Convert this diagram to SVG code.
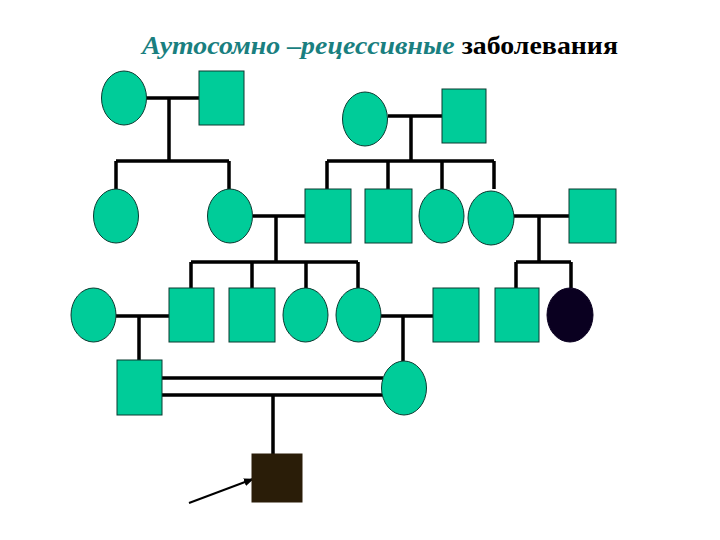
<svg xmlns="http://www.w3.org/2000/svg" width="720" height="540" viewBox="0 0 720 540">
<style>
.n{fill:#00CC99;stroke:#0a3a30;stroke-width:1}
.a{fill:#0a0020;stroke:#0a0020;stroke-width:1}
.p{fill:#2a1d08;stroke:#2a1d08;stroke-width:1}
.l{stroke:#000;stroke-width:3.5;fill:none;stroke-linecap:butt}
.t{font-family:"Liberation Serif","DejaVu Serif",serif;font-size:26px;font-weight:bold}
</style>
<defs>
<marker id="ah" markerWidth="10" markerHeight="8" refX="9" refY="4" orient="auto" markerUnits="userSpaceOnUse">
<path d="M0,0 L10,4 L0,8 Z" fill="#000"/>
</marker>
</defs>
<rect width="720" height="540" fill="#fff"/>
<text class="t" x="142" y="54" textLength="476" lengthAdjust="spacingAndGlyphs"><tspan font-style="italic" fill="#1a7f80">Аутосомно –рецессивные</tspan> <tspan fill="#000">заболевания</tspan></text>
<g id="connectors">
<path class="l" d="M146,98 H199 M169,98 V161 M116,161 H229 M116,161 V189 M229,161 V189"/>
<path class="l" d="M388,116 H442 M411,116 V161 M327,161 H494 M327,161 V189 M388,161 V189 M442,161 V189 M494,161 V189"/>
<path class="l" d="M253,216 H305 M276,216 V262 M191,262 H358 M191,262 V288 M252,262 V288 M306,262 V288 M358,262 V288"/>
<path class="l" d="M514,216 H569 M539,216 V262 M516,262 H571 M516,262 V288 M571,262 V288"/>
<path class="l" d="M116,316 H169 M139,316 V360"/>
<path class="l" d="M381,316 H433 M403,316 V361"/>
<path class="l" d="M162,378 H383 M162,395 H383 M273,395 V454"/>
<line x1="189" y1="503" x2="253" y2="479" stroke="#000" stroke-width="2" marker-end="url(#ah)"/>
</g>
<g id="I1"><ellipse class="n" cx="124" cy="98" rx="22.5" ry="27"/></g>
<g id="I2"><rect class="n" x="199" y="71" width="45" height="54"/></g>
<g id="I3"><ellipse class="n" cx="365" cy="119" rx="22.5" ry="27"/></g>
<g id="I4"><rect class="n" x="442" y="89" width="44" height="54"/></g>
<g id="II1"><ellipse class="n" cx="116" cy="216" rx="22.5" ry="27"/></g>
<g id="II2"><ellipse class="n" cx="230" cy="216" rx="22.5" ry="27"/></g>
<g id="II3"><rect class="n" x="305" y="189" width="46" height="54"/></g>
<g id="II4"><rect class="n" x="365" y="189" width="47" height="54"/></g>
<g id="II5"><ellipse class="n" cx="441.5" cy="216" rx="22.5" ry="27"/></g>
<g id="II6"><ellipse class="n" cx="491" cy="218" rx="23" ry="27"/></g>
<g id="II7"><rect class="n" x="569" y="189" width="47" height="54"/></g>
<g id="III1"><ellipse class="n" cx="93.5" cy="315" rx="22.5" ry="27"/></g>
<g id="III2"><rect class="n" x="169" y="288" width="45" height="54"/></g>
<g id="III3"><rect class="n" x="229" y="288" width="46" height="54"/></g>
<g id="III4"><ellipse class="n" cx="305.5" cy="315" rx="22.5" ry="27"/></g>
<g id="III5"><ellipse class="n" cx="358.5" cy="315" rx="22.5" ry="27"/></g>
<g id="III6"><rect class="n" x="433" y="288" width="46" height="54"/></g>
<g id="III7"><rect class="n" x="495" y="288" width="44" height="54"/></g>
<g id="III8"><ellipse class="a" cx="570" cy="315" rx="23" ry="27"/></g>
<g id="IV1"><rect class="n" x="117" y="360" width="45" height="55"/></g>
<g id="IV2"><ellipse class="n" cx="404" cy="388" rx="22.5" ry="27"/></g>
<g id="V1"><rect class="p" x="252" y="454" width="50" height="48"/></g>
</svg>
